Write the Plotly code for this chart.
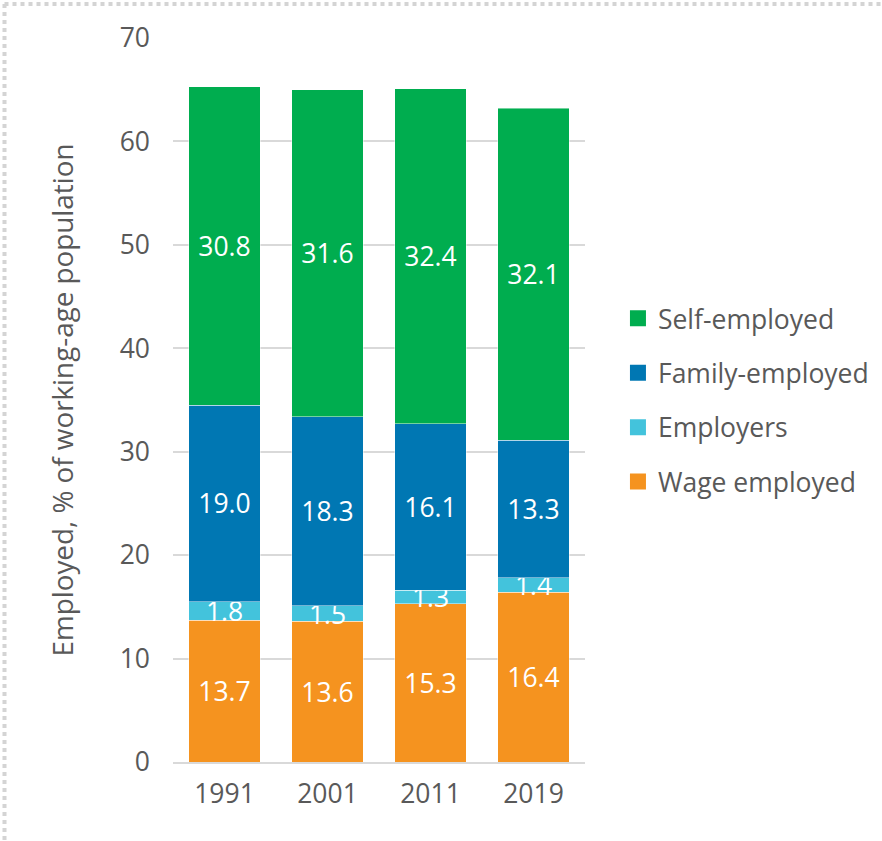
import plotly.graph_objects as go

years = ["1991", "2001", "2011", "2019"]
wage_employed = [13.7, 13.6, 15.3, 16.4]
employers = [1.8, 1.5, 1.3, 1.4]
family_employed = [19.0, 18.3, 16.1, 13.3]
self_employed = [30.8, 31.6, 32.4, 32.1]

series = [
    ("Wage employed", wage_employed, "#F5931F"),
    ("Employers", employers, "#43C3DC"),
    ("Family-employed", family_employed, "#0077B3"),
    ("Self-employed", self_employed, "#00AD4F"),
]

FONT = "Open Sans"
GREY = "#595959"
FS = 26.5
W = 400

fig = go.Figure()
for name, vals, col in series:
    fig.add_trace(go.Bar(
        x=years, y=vals, name=name, showlegend=False,
        marker=dict(color=col, line=dict(color="rgba(255,255,255,0.45)", width=1)),
        text=[f"{v:.1f}" for v in vals], textposition="inside",
        insidetextanchor="middle", constraintext="none",
        textfont=dict(color="white", size=FS, family=FONT, weight=W),
        hoverinfo="skip",
    ))

# legend entries (square markers), top to bottom
for name, vals, col in reversed(series):
    fig.add_trace(go.Scatter(
        x=[None], y=[None], mode="markers", name=name,
        legendgroup=name,
        marker=dict(symbol="square", size=18, color=col),
    ))

fig.update_layout(
    width=882, height=841,
    margin=dict(l=173, r=297, t=38, b=79, autoexpand=False),
    barmode="stack", bargap=0.31,
    plot_bgcolor="white", paper_bgcolor="white",
    font=dict(family=FONT, color=GREY, size=FS, weight=W),
    uniformtext=dict(mode="show", minsize=FS),
    showlegend=True,
    legend=dict(
        x=1.08, y=0.5, xanchor="left", yanchor="middle",
        traceorder="grouped", tracegroupgap=17,
        font=dict(size=FS, color=GREY, family=FONT, weight=W),
        itemwidth=30,
    ),
    yaxis=dict(
        range=[0, 70], dtick=10, showgrid=True, gridcolor="#D9D9D9", gridwidth=1.5,
        zeroline=False, showline=False,
        tickfont=dict(size=FS, color=GREY, weight=W), ticklabelstandoff=22,
        title=dict(text="Employed, % of working-age population",
                   font=dict(size=27.8, color=GREY, weight=W), standoff=37),
    ),
    xaxis=dict(
        showline=True, linecolor="#D9D9D9", linewidth=1.5,
        tickfont=dict(size=FS, color=GREY, weight=W), ticklabelstandoff=7,
    ),
)

# dotted frame (top and left edges of the cropped picture)
fig.add_shape(type="line", xref="paper", yref="paper",
              x0=(4.5 - 173) / 412, x1=(890 - 173) / 412,
              y0=(762 - 4) / 724, y1=(762 - 4) / 724,
              line=dict(color="#D4D4D4", width=4, dash="dot"))
fig.add_shape(type="line", xref="paper", yref="paper",
              x0=(4.5 - 173) / 412, x1=(4.5 - 173) / 412,
              y0=(762 - 4) / 724, y1=(762 - 850) / 724,
              line=dict(color="#D4D4D4", width=4, dash="dot"))

fig.write_html("out.html")
